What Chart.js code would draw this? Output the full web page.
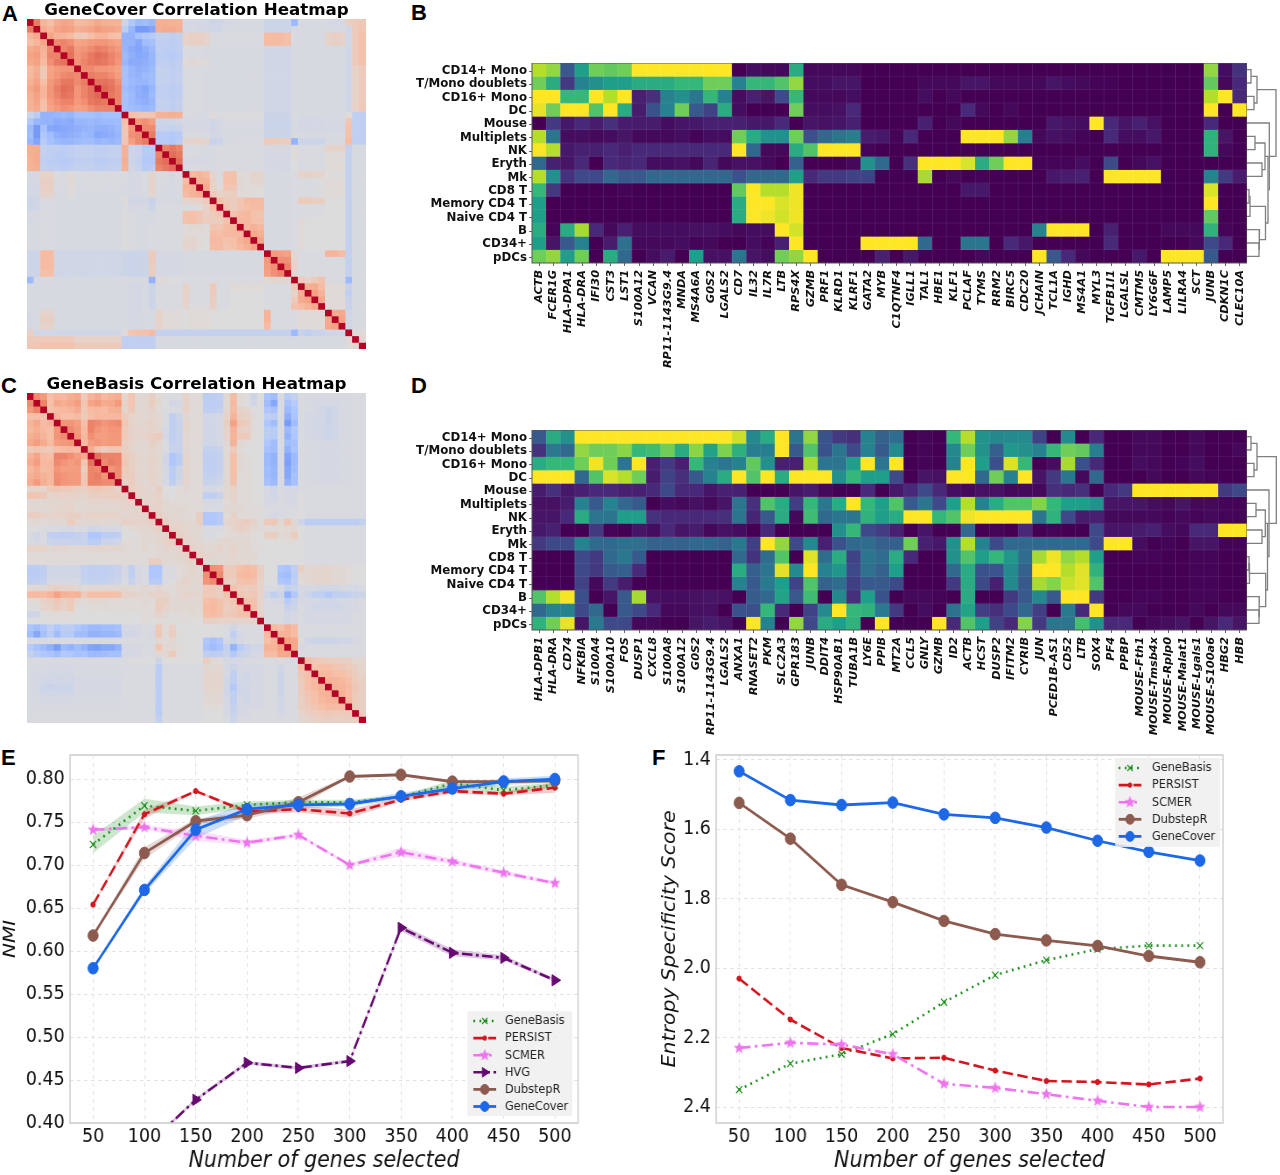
<!DOCTYPE html>
<html>
<head>
<meta charset="utf-8">
<title>Gene panel comparison</title>
<script src="https://cdn.jsdelivr.net/npm/chart.js@4/dist/chart.umd.min.js"></script>
<style>
  html, body { margin: 0; padding: 0; background: #fff; }
  #page { position: relative; width: 1280px; height: 1175px; overflow: hidden; }
  canvas { position: absolute; display: block; }
  .tag { position: absolute; font: bold 22px "Liberation Sans", Arial, sans-serif; color: #000; line-height: 22px; }
</style>
</head>
<body>
<div id="page">
  <div class="tag" style="left:2px;top:3px">A</div>
  <div class="tag" style="left:411px;top:2px">B</div>
  <div class="tag" style="left:1px;top:375px">C</div>
  <div class="tag" style="left:411px;top:375px">D</div>
  <div class="tag" style="left:1px;top:747px">E</div>
  <div class="tag" style="left:652px;top:747px">F</div>
  <canvas id="corrCover"></canvas>
  <canvas id="corrBasis"></canvas>
  <canvas id="markersCover"></canvas>
  <canvas id="treeCover"></canvas>
  <canvas id="markersBasis"></canvas>
  <canvas id="treeBasis"></canvas>
  <canvas id="nmiChart"></canvas>
  <canvas id="entropyChart"></canvas>
</div>
<script>
// ---- data ----

const cellTypes = ['CD14+ Mono', 'T/Mono doublets', 'CD16+ Mono', 'DC', 'Mouse', 'Multiplets', 'NK', 'Eryth', 'Mk',
  'CD8 T', 'Memory CD4 T', 'Naive CD4 T', 'B', 'CD34+', 'pDCs'];

const coverGenes = ['ACTB', 'FCER1G', 'HLA-DPA1', 'HLA-DRA', 'IFI30', 'CST3', 'LST1', 'S100A12', 'VCAN', 'RP11-1143G9.4',
  'MNDA', 'MS4A6A', 'G0S2', 'LGALS2', 'CD7', 'IL32', 'IL7R', 'LTB', 'RPS4X', 'GZMB', 'PRF1', 'KLRD1', 'KLRF1', 'GATA2',
  'MYB', 'C1QTNF4', 'IGLL1', 'TAL1', 'HBE1', 'KLF1', 'PCLAF', 'TYMS', 'RRM2', 'BIRC5', 'CDC20', 'JCHAIN', 'TCL1A', 'IGHD',
  'MS4A1', 'MYL3', 'TGFB1I1', 'LGALSL', 'CMTM5', 'LY6G6F', 'LAMP5', 'LILRA4', 'SCT', 'JUNB', 'CDKN1C', 'CLEC10A'];

const basisGenes = ['HLA-DPB1', 'HLA-DRA', 'CD74', 'NFKBIA', 'S100A4', 'S100A10', 'FOS', 'DUSP1', 'CXCL8', 'S100A8',
  'S100A12', 'G0S2', 'RP11-1143G9.4', 'LGALS2', 'ANXA1', 'RNASET2', 'PKM', 'SLC2A3', 'GPR183', 'JUNB', 'DDIT4', 'HSP90AB1',
  'TUBA1B', 'LY6E', 'PPIB', 'MT2A', 'CCL5', 'GNLY', 'GZMB', 'ID2', 'ACTB', 'HCST', 'DUSP2', 'IFITM2', 'CYRIB', 'JUN',
  'PCED1B-AS1', 'CD52', 'LTB', 'SOX4', 'PF4', 'PPBP', 'MOUSE-Fth1', 'MOUSE-Tmsb4x', 'MOUSE-Rplp0', 'MOUSE-Malat1',
  'MOUSE-Lgals1', 'MOUSE-S100a6', 'HBG2', 'HBB'];

// mean expression per cell type, 0 (low) to 9 (high), one row per cell type
const coverExpr = [
  [8,7.5,2.5,5,7,6.8,7,9,9,9,9,9,9,9,0,.3,.2,.2,5.5,.2,.2,.2,.2,0,0,0,0,0,0,0,0,0,0,0,0,0,0,0,0,0,0,0,0,0,0,0,0,7.5,.3,1.3],
  [7,5.5,1.5,4,4.5,5,5,5.5,5.5,5.5,6,6,7,7,4,6,6,6.5,7.5,.3,.3,.5,.5,0,0,0,0,.2,.2,.2,.5,.5,.2,.2,.2,.2,.5,.3,.2,.1,.1,0,0,0,0,0,0,6.8,.2,1],
  [9,9,6,6,9,8,9,.8,1.2,4,4.5,3.5,6,4,.3,.8,.5,2,6,.2,.2,.2,.3,0,0,0,0,.3,0,.2,0,0,0,0,0,0,0,0,0,0,0,0,0,0,0,0,0,8,9,1],
  [8.7,7,9,9,6.5,9,5.5,.7,2.3,4,7,2.5,1.8,5.5,.3,0,0,0,7,.3,.3,.4,1,0,0,0,0,0,0,0,1,.2,0,.2,0,0,0,0,0,0,0,0,0,0,0,0,0,9,0,9],
  [0,1.5,.6,1,.7,1.2,.7,.7,.7,.3,.5,.6,.8,.8,.8,.6,.6,1,0,.5,.4,.5,.8,0,0,0,0,.8,0,.2,0,0,0,0,0,0,.6,.4,.3,9,1,.5,.8,.4,0,0,0,1,0,0],
  [8,3.5,.3,.3,.2,.3,.5,.2,.2,.2,.3,.1,.3,.3,7,5.5,4.5,4.5,7,2.2,3,3.5,3.8,.7,.6,.1,1,0,0,0,9,9,9,7.5,3.8,.2,.4,.3,.1,0,1,.3,.3,.6,0,0,0,5.8,.5,0],
  [8.9,8,.6,.8,.8,1,.8,1,1,1,1,1,1,1,9,3,.2,.2,5.5,6.5,9,9,9,.1,0,0,0,0,0,0,0,0,0,0,0,0,0,0,0,0,0,0,0,0,0,0,0,5.8,.2,0],
  [3,.8,.5,1,0,1,.9,1,.3,.3,.4,.2,.9,.2,.4,.4,.2,0,2.8,0,0,0,.2,4.5,3,0,1.2,9,9,9,8.5,5.5,7,9,9,.1,.1,.1,.3,0,2,0,.2,.4,0,0,0,0,0,0],
  [8,4.5,1.3,2,2,3,2.5,2.5,3,3,3,3,3,3,2.3,3,3,3,5,1,1.5,1.5,1.8,1.8,0,0,0,7.8,0,.2,0,.1,0,0,0,0,.6,.7,.8,0,9,9,9,9,0,0,0,4,1.5,.7],
  [6,1.5,0,0,0,0,.1,0,0,0,0,0,0,0,6.8,9,8,8,8.8,0,0,0,0,0,0,0,0,0,0,0,.6,.6,0,0,0,0,0,0,0,0,0,0,0,0,0,0,0,8.5,0,0],
  [5,0,0,0,0,0,0,0,0,0,0,0,0,0,5.5,9,9,8.5,8.8,0,0,0,0,0,0,0,0,0,0,0,0,0,0,0,0,0,0,0,0,0,0,0,0,0,0,0,0,9,0,0],
  [5,0,0,0,0,0,0,0,0,0,0,0,0,0,5.5,9,8.8,8.4,8.8,0,0,0,0,0,0,0,0,0,0,0,0,0,0,0,0,0,0,0,0,0,0,0,0,0,0,0,0,6.8,0,0],
  [5.5,.1,5.5,7.8,1,.2,.8,.3,.3,.3,.3,.4,.4,.3,.2,.3,.3,9,8.4,0,0,0,0,0,0,0,0,0,0,0,0,0,0,0,0,4,9,9,9,0,.8,0,0,0,.2,.2,.2,5.8,.1,0],
  [5,.5,2.5,4,0,.7,3.3,.2,.2,.2,.3,.1,.2,0,0,.3,.1,.8,9,0,0,0,0,9,9,9,9,3,0,0,3.5,3.5,0,1,.6,0,0,0,0,0,1,0,0,0,0,0,.2,2,1,0],
  [7,7.5,5,7,0,5.5,3,0,.3,.7,0,5,.4,.4,3.5,.5,.3,7,7.5,9,0,0,0,0,.8,0,.6,0,0,0,0,.2,0,0,0,9,2.5,1,.2,0,0,0,.6,0,9,9,9,2.5,0,0]
];

const basisExpr = [
  [2.5,5.5,4.5,9,9,9,9,9,9,9,9,9,9,9,8.3,4.2,5.5,9,3.5,7.5,2.3,1.5,1.2,4,2.8,3.2,0,.1,0,6,8,4.6,4.2,4.3,4.3,1.8,0,4.3,0,1,0,0,.2,.2,0,0,.2,0,0,0],
  [1.3,3.7,3,7.5,7,7,7.4,6,6.2,7,5.5,7.4,5.2,7.2,5.7,3.8,3.8,9,2.5,6.5,2.3,3.5,2,4,2.5,4.3,0,.1,0,4.2,7,4.6,2.7,4.8,4.5,4,6,7,6.8,3.8,0,0,.2,.2,0,0,.2,0,0,.2],
  [5.5,6,6,7,8.8,7,3.5,9,.8,1.5,.8,6,4,3.5,4,6.8,4.5,.8,.8,7.8,3.5,3.5,5,9,3.5,9,0,.1,0,4,9,5,2.2,8.5,6,0,.3,7.8,2.2,1,0,0,.3,.2,0,.1,.3,0,0,0],
  [9,9,9,3,6.5,8.5,8,7,.7,1.8,1.2,2.5,4,5.5,9,6.5,9,5.5,9,9,9,4.5,6,5,5,2,0,.5,.4,9,9,3,7,4,9,.5,1.5,3.5,.2,3,0,0,0,.2,0,0,.2,.1,0,0],
  [.7,1.2,.6,.8,1,1,.8,.8,1,2,1,1,.5,.8,.8,0,0,0,.5,.7,.2,0,0,1,0,.6,1,2,1,.3,.2,.4,.4,.2,.2,.2,1.2,1,1.2,0,1,1.5,9,9,9,9,9,9,1.5,2],
  [.4,.4,.7,4,2.5,4,3,2.5,0,.3,.2,.4,.2,.5,3.5,1.2,6.5,5.5,1.6,6,3.5,5.5,9,6,5,6.5,2.5,3.5,2,5,8,4,5.5,6.5,6.5,7.3,6,5,5,4.5,.5,.5,.5,.3,.2,.5,.2,.2,.1,.1],
  [.5,.5,1,5.5,3.5,3.5,5,5,1.3,1,1,1,1.1,1.2,3.5,.9,2.5,5.5,.2,6.2,3,3.5,3.5,5.8,5,5.5,9,9,6,6.5,8.8,9,9,9,9,3.5,5.8,2,.7,.8,.2,.2,.2,.2,.1,.2,.1,.2,.1,.1],
  [.6,.8,0,0,1.5,.1,0,.5,.3,1,.5,.7,.2,.4,.3,0,1,0,0,0,0,4.5,6,2,1.6,.8,0,.5,0,0,3,0,.1,0,1,0,.1,0,0,2,.5,.5,.7,.8,.3,.2,1,1,9,9],
  [1.5,2,2,4,3,3,3.3,3.3,2.8,2.8,2.8,3,3,2.8,3.6,1.7,9,7.5,2,4.2,.8,2.3,3,3.2,2.7,2.7,7,.8,.6,4.5,8,4,2,3,3,3,3,3,3,2,9,9,.3,0,.1,0,.5,.5,.1,.1],
  [0,0,0,2,1.5,3,3.6,2.5,0,0,0,0,0,0,3,1.3,3.2,6.5,0,8.6,3.2,5.5,1.8,3.5,3.2,5.5,1,0,0,4.5,6.5,5,6,4.7,3.2,7.8,8.8,7.5,8,5,0,0,.1,.1,0,0,.1,.1,0,0],
  [0,0,0,2,1.5,2.5,2.7,1.1,0,0,0,0,0,0,5.5,2.7,3.5,8.6,4.3,9,4,4.7,2,3.3,2.8,5,0,0,0,3,5.5,2.3,2.4,4.3,2.8,9,9,8,8.6,5.8,0,0,0,0,0,0,.1,.1,0,0],
  [0,0,0,1.8,.2,1.5,.7,0,0,0,0,0,0,0,4,2.5,3.7,5,1.8,6.5,2.8,3.2,1.7,2.5,2.5,2,0,0,0,1.5,5.5,2,.8,4.2,2.5,7.8,7.3,8.3,8.6,6.5,0,0,0,0,0,0,.1,.1,0,0],
  [6.5,8,8.9,2.2,0,.5,2.5,7.8,.4,.3,.3,.4,.5,.4,0,2.6,3,5.2,2.5,6.2,0,4.2,1.2,5,2.3,0,.2,.2,.1,0,5.5,0,0,1.5,2.5,4.2,2.5,9,9,1.5,0,0,.1,.1,0,0,.1,.1,0,0],
  [3,4,4,2,3,0,2.5,2,1,.2,.2,.4,.4,0,2.3,2.2,6,1,0,1.8,4.3,9,6,5.8,3.7,1.5,0,.3,0,3.3,5.2,1.7,1.2,2,3,1.7,0,3.7,1,9,0,.2,.2,0,0,0,.2,0,.2,.2],
  [5.8,7,8.7,.5,3.7,2,2,.2,.2,0,0,.5,.7,.5,0,9,4,0,7.5,2,5.5,5,5.8,0,9,0,0,0,9,1,6.5,5,1.8,1,7.3,1.5,3.5,3.5,6.3,4.5,1,1,0,.2,.3,.5,0,.5,1,.5]
];

// dendrogram links: [upper row, upper height, lower row, lower height, merge height]
const coverTree = [
  [.5,0,1.5,0,4], [2.5,0,3.5,0,7], [1,4,3,7,10], [5.5,0,6.5,0,8], [7.5,0,8.5,0,15], [6,8,8,15,18], [9.5,0,10.5,0,2],
  [10,2,11.5,0,3], [13.5,0,14.5,0,12], [12.5,0,14,12,12.5], [10.75,3,13.25,12.5,18.5], [7,18,12,18.5,21],
  [4.5,0,9.5,21,22.3], [2,10,7,22.3,29]
];
const basisTree = [
  [.5,0,1.5,0,4], [2.5,0,3.5,0,7], [1,4,3,7,10], [5.5,0,6.5,0,9], [7.5,0,8.5,0,15], [6,9,8,15,18.3], [9.5,0,10.5,0,2],
  [10,2,11.5,0,2.5], [13.5,0,14.5,0,12], [12.5,0,14,12,12.3], [10.75,2.5,13.25,12.3,18.7], [7,18.3,12,18.7,20.5],
  [4.5,0,9.5,20.5,22], [2,10,7,22,29.3]
];

// gene-gene correlation x100, lower triangle, diagonal left out
const coverCorr = [
  [],
  [55],
  [28,35],
  [22,28,38],
  [34,38,30,50],
  [38,42,28,52,52],
  [36,40,25,48,56,58],
  [24,32,15,38,44,46,46],
  [26,34,14,40,46,50,52,50],
  [30,38,22,44,50,56,56,50,54],
  [36,44,28,46,54,60,58,46,52,58],
  [32,40,28,46,52,58,56,46,52,58,62],
  [30,38,22,42,48,52,52,44,48,56,58,56],
  [30,34,20,38,44,48,46,40,42,48,52,52,52],
  [-8,-16,-34,-34,-32,-30,-32,-26,-26,-26,-28,-26,-26,-26],
  [-22,-32,-34,-34,-38,-36,-38,-32,-32,-30,-32,-30,-30,-28,22],
  [-30,-48,-26,-40,-42,-40,-38,-36,-34,-32,-36,-36,-34,-30,18,45],
  [-28,-48,-22,-28,-36,-38,-36,-34,-30,-32,-40,-38,-36,-32,16,48,50],
  [-32,-42,-18,-26,-30,-32,-32,-30,-28,-28,-32,-30,-32,-30,18,42,50,55],
  [32,32,-12,-14,-14,-16,-14,-12,-12,-12,-14,-14,-12,-12,30,-8,-10,-18,-18],
  [32,34,-12,-14,-16,-16,-14,-12,-12,-12,-14,-14,-12,-12,30,-8,-10,-18,-18,52],
  [30,34,-14,-16,-16,-18,-16,-14,-14,-14,-16,-16,-14,-14,32,-8,-12,-20,-20,56,60],
  [30,32,-12,-14,-14,-16,-14,-12,-12,-12,-14,-14,-12,-12,30,-6,-10,-18,-16,52,56,60],
  [-4,-4,8,8,-2,-2,2,-2,-2,-2,-2,-2,-2,-2,-2,-4,-4,-2,6,-2,-2,-4,-2],
  [-4,-4,10,10,-2,-2,4,-2,-2,-2,-2,-2,-2,-2,-2,-4,-4,-2,8,-2,-2,-4,-2,25],
  [-5,-5,10,10,-2,-2,2,-2,-2,-2,-2,-2,-2,-2,-3,-4,-4,-2,8,-2,-3,-4,-2,28,30],
  [-5,-5,8,8,-3,-3,2,-3,-3,-3,-3,-3,-3,-3,-3,-4,-4,-3,6,-3,-3,-4,-3,24,30,34],
  [-8,-6,-2,-2,-3,-3,-3,-3,-3,-3,-3,-3,-3,-3,2,-6,-6,-5,-10,-3,-3,-3,-3,6,8,8,14],
  [-7,-6,-2,-2,-3,-3,-3,-3,-3,-3,-3,-3,-3,-3,-2,-4,-4,-4,-8,-2,-2,-2,-2,-2,-2,2,8,22],
  [-4,-3,-2,-2,-3,-3,-3,-3,-3,-3,-3,-3,-3,-3,-1,-2,-3,-3,-3,-2,-2,-2,-2,20,22,18,10,14,18],
  [-4,-3,-2,-2,-3,-3,-3,-3,-3,-3,-3,-3,-3,-3,-1,-2,-3,-3,-3,-2,-2,-2,-2,20,22,16,12,12,12,20],
  [-3,-3,-2,-2,-3,-3,-3,-3,-3,-3,-3,-3,-3,-3,-1,-2,-3,-3,-2,-2,-2,-2,-2,2,4,4,2,18,18,24,26],
  [-3,-3,-2,-2,-3,-3,-3,-3,-3,-3,-3,-3,-3,-3,-1,-2,-3,-3,-2,-2,-2,-2,-2,2,2,2,2,24,22,26,26,26],
  [-3,-3,-2,-2,-3,-3,-3,-3,-3,-3,-3,-3,-3,-3,-1,-2,-3,-3,-2,-2,-2,-2,-2,6,6,2,0,26,24,20,22,30,36],
  [-3,-3,-2,-2,-3,-3,-3,-3,-3,-3,-3,-3,-3,-3,-1,-2,-3,-3,-2,-2,-2,-2,-2,6,6,2,0,24,24,18,20,26,32,38],
  [-8,-8,24,24,-6,-6,-6,-6,-6,-6,-6,-6,-6,-6,-8,-9,-9,-8,14,-4,-4,-4,-4,-3,-3,-3,-3,-3,-3,-3,-3,-3,-3,-3,-3],
  [-8,-8,24,24,-6,-6,-6,-6,-6,-6,-6,-6,-6,-6,-8,-9,-9,-8,14,-4,-4,-4,-4,-3,-3,-3,-3,-3,-3,-3,-3,-3,-3,-3,-3,44],
  [-8,-8,24,24,-6,-6,-6,-6,-6,-6,-6,-6,-6,-6,-8,-9,-9,-8,12,-4,-4,-4,-4,-3,-3,-3,-3,-3,-3,-3,-3,-3,-3,-3,-3,42,48],
  [-8,-8,22,22,-6,-6,-6,-6,-6,-6,-6,-6,-6,-6,-8,-9,-9,-8,12,-4,-4,-4,-4,-3,-3,-3,-3,-3,-3,-3,-3,-3,-3,-3,-3,40,48,52],
  [-30,-4,-2,-2,-3,-3,-3,-3,-3,-3,-3,-3,-3,-3,-2,-3,-3,-3,-34,2,2,0,0,-2,-2,-2,-2,-2,-2,-2,-2,-2,-2,-2,-2,4,6,6,4],
  [-3,-3,-3,-3,-3,-3,-3,-3,-3,-3,-3,-3,-3,-3,-3,-5,-5,-3,-8,-2,-2,-2,-2,8,-2,-2,-2,14,-2,-2,2,2,2,2,2,-2,-2,-2,-2,14],
  [-3,-3,-3,-3,-3,-3,-3,-3,-3,-3,-3,-3,-3,-3,-3,-5,-5,-3,-8,-2,-2,-2,-2,8,-2,-2,-2,14,-2,-2,0,0,0,0,0,-2,-2,-2,-2,8,32],
  [-3,-3,-3,-3,-3,-3,-3,-3,-3,-3,-3,-3,-3,-3,-3,-5,-5,-3,-8,-2,-2,-2,-2,8,-2,-2,-2,12,-2,-2,0,0,0,0,0,-2,-2,-2,-2,14,34,40],
  [-3,-3,-3,-3,-3,-3,-3,-3,-3,-3,-3,-3,-3,-3,-3,-5,-5,-3,-8,-2,-2,-2,-2,6,-1,-1,-1,10,-2,-2,0,0,0,0,0,-2,-2,-2,-2,20,24,30,36],
  [-4,-3,8,8,-3,-3,-3,-3,-3,-3,-3,-3,-3,-3,-3,-4,-4,-3,-3,8,2,2,2,0,2,2,2,0,0,0,0,0,0,0,0,28,-2,-2,-2,-2,2,2,2,2],
  [-4,-3,10,10,-3,-3,-3,-3,-3,-3,-3,-3,-3,-3,-3,-4,-4,-3,-3,8,2,2,2,0,2,2,2,0,0,0,0,0,0,0,0,28,-2,-2,-2,-2,2,2,2,2,34],
  [-4,-3,8,8,-3,-3,-3,-3,-3,-3,-3,-3,-3,-3,-3,-4,-4,-3,-3,8,2,2,2,0,2,2,2,0,0,0,0,0,0,0,0,24,-2,-2,-2,-2,2,2,2,2,36,40],
  [10,-6,-6,-6,-6,-6,-6,-6,-6,-6,-6,-6,-6,-6,2,18,20,20,24,-12,-12,-12,-12,-12,-12,-12,-12,-12,-12,-12,-12,-12,-12,-12,-12,-12,-12,-12,-12,-30,-10,-14,-10,-10,-6,-6,-6],
  [14,14,14,14,14,14,14,8,8,8,8,8,8,8,-14,-14,-14,-14,-14,-3,-3,-3,-3,-3,-3,-3,-3,-3,-3,-3,-3,-3,-3,-3,-3,-3,-3,-3,-3,-3,-3,-3,-3,-3,-3,-3,-3,2],
  [16,18,20,20,20,20,20,14,14,14,14,14,14,14,-14,-14,-14,-14,-14,-3,-3,-3,-3,-3,-3,-3,-3,-3,-3,-3,-3,-3,-3,-3,-3,-3,-3,-3,-3,-3,-3,-3,-3,-3,-3,-3,-3,2,4]
];

const basisCorr = [
  [],
  [50],
  [44,52],
  [22,22,20],
  [28,36,24,28],
  [26,32,26,22,46],
  [32,36,28,22,46,50],
  [36,42,34,24,42,44,46],
  [14,18,16,14,22,24,26,24],
  [28,38,24,22,52,52,48,42,34],
  [34,42,26,26,50,46,42,46,18,58],
  [26,34,24,26,46,42,42,42,12,52,50],
  [30,36,30,26,48,46,44,44,16,52,54,46],
  [34,44,32,26,50,46,44,44,18,52,52,50,50],
  [6,8,6,14,16,14,14,10,10,14,16,14,12,8],
  [18,18,16,6,8,8,8,8,6,10,10,10,12,12,10],
  [4,4,4,6,4,6,6,4,4,6,6,6,6,6,8,8],
  [4,4,4,4,6,6,8,4,4,4,4,4,4,4,6,6,8],
  [10,12,8,6,8,8,10,10,6,8,8,8,8,8,4,6,6,8],
  [2,4,2,4,4,4,14,6,4,4,4,4,4,4,10,8,8,8,10],
  [0,0,-2,-2,-2,-4,-4,-2,-2,-6,-6,-4,-4,-4,0,2,4,4,6,10],
  [-2,-6,-2,-14,-14,-14,-14,-12,-10,-22,-22,-16,-16,-14,0,0,2,4,4,6,8],
  [-2,-4,-2,-8,-10,-10,-10,-10,-10,-16,-16,-8,-8,-6,2,2,2,4,4,6,8,10],
  [8,8,8,4,6,6,4,4,4,6,6,6,6,6,4,2,2,4,2,4,6,6,6],
  [2,2,2,2,2,2,2,2,2,2,2,2,2,2,2,2,2,2,2,4,4,4,6,8],
  [2,2,2,2,2,2,2,2,2,2,2,2,2,2,2,2,2,2,12,10,4,4,4,6,8],
  [-16,-16,-14,-6,-6,-6,-6,-6,-12,-14,-14,-14,-12,-10,-4,-14,-4,-2,-22,-22,-2,-2,2,4,6,4],
  [-16,-16,-14,-6,-6,-6,-6,-6,-12,-14,-14,-14,-12,-10,-4,-14,-4,-2,-22,-22,-2,-2,2,4,6,4,48],
  [-14,-14,-12,-4,-4,-4,-4,-4,-10,-12,-12,-12,-10,-8,-2,-10,-4,-2,-18,-18,-2,0,4,8,4,4,46,50],
  [4,4,4,8,10,8,8,4,2,4,4,4,4,4,4,4,2,4,2,6,2,2,6,4,4,4,14,14,12],
  [24,26,24,28,40,30,28,30,14,22,22,22,22,20,8,8,6,4,8,8,6,2,4,8,6,6,14,14,10,20],
  [2,2,8,10,16,10,14,4,2,4,4,4,2,2,2,2,2,4,2,10,10,4,4,4,4,4,22,24,20,14,18],
  [0,0,6,8,12,8,14,2,0,2,2,2,2,2,2,2,2,2,2,12,8,4,4,4,4,4,24,26,22,12,14,20],
  [-8,-6,0,2,2,2,2,0,0,0,0,0,0,0,0,0,0,2,2,8,4,2,2,2,4,2,22,24,20,14,16,20,22],
  [0,0,0,0,0,0,0,0,0,0,0,0,0,0,0,0,0,2,0,2,2,0,0,2,0,0,10,10,8,8,8,6,6,8],
  [-24,-28,-22,-14,-22,-16,-16,-22,-26,-30,-30,-28,-28,-26,-4,-4,-4,-2,-2,14,2,10,0,0,0,0,0,0,0,-2,-6,-2,-2,-2,-2],
  [-28,-40,-26,-16,-28,-18,-18,-28,-28,-34,-34,-32,-32,-30,-6,-6,-4,-2,-4,16,2,12,2,0,0,0,0,0,0,-2,-14,-4,-2,-2,-2,26],
  [-2,-2,-2,-2,-2,-2,-2,-2,-2,-2,-2,-2,-2,-2,-2,-2,-2,-2,-2,4,2,4,0,0,0,0,-22,-26,-22,-4,-8,-4,-2,-2,-2,22,28],
  [-18,-26,-30,-36,-46,-30,-34,-28,-34,-42,-44,-40,-40,-34,-4,-4,-4,-2,-2,18,4,4,2,0,0,0,-24,-28,-24,-12,-34,-18,-10,-6,-6,30,30,40],
  [-12,-18,-22,-24,-28,-20,-22,-26,-24,-30,-30,-28,-26,-26,-4,-4,-4,-2,-2,4,4,14,2,0,0,0,-14,-16,-14,-10,-20,-10,-8,-4,-4,24,24,36,36],
  [-2,-2,-2,-2,-2,-2,-2,-2,-2,-2,-2,-2,-2,-2,-2,0,0,0,0,-8,0,0,0,0,0,0,12,4,2,-4,-4,-4,-2,-2,-2,-2,-2,2,-4,-2],
  [-3,-3,-3,-4,-4,-4,-4,-3,-3,-3,-3,-3,-3,-3,-2,-2,-2,-2,-2,-16,-2,-2,-2,-2,-2,-2,4,4,4,-4,-8,-4,-4,-4,-4,-2,-2,-6,-2,-2,22],
  [-3,-4,-4,-5,-5,-5,-5,-3,-3,-3,-3,-3,-3,-3,-2,-2,-2,-2,-2,-16,-2,-2,-2,-2,-2,-2,6,6,6,-4,-14,-4,-6,-4,-4,-2,-2,-8,-2,-2,16,20],
  [-4,-4,-6,-6,-6,-6,-6,-4,-4,-4,-4,-4,-4,-4,-2,-2,-2,-2,-2,-16,-2,-2,-2,-2,-2,-2,6,6,6,-6,-14,-6,-6,-4,-4,-2,-2,-8,-2,-2,14,22,26],
  [-3,-4,-8,-10,-8,-8,-8,-4,-4,-4,-4,-4,-4,-4,-2,-2,-2,-2,-2,-16,-2,-2,-2,-2,-2,-2,6,6,6,-6,-20,-6,-6,-4,-4,-2,-2,-8,-2,-2,12,22,26,30],
  [-3,-4,-6,-6,-6,-6,-6,-4,-4,-4,-4,-4,-4,-4,-2,-2,-2,-2,-2,-16,-2,-2,-2,-2,-2,-2,4,4,4,-6,-14,-6,-6,-4,-4,-2,-2,-8,-2,-2,12,18,22,28,30],
  [-3,-3,-4,-4,-4,-4,-4,-3,-3,-3,-3,-3,-3,-3,-2,-2,-2,-2,-2,-16,-2,-2,-2,-2,-2,-2,4,4,4,-4,-14,-4,-6,-4,-4,-2,-2,-6,-2,-2,10,16,22,26,28,30],
  [-3,-3,-3,-3,-3,-3,-3,-3,-3,-3,-3,-3,-3,-3,-2,-2,-2,-2,-2,-16,-2,-2,-2,-2,-2,-2,2,2,2,-4,-12,-4,-4,-4,-4,-2,-2,-6,-2,-2,10,14,18,22,24,24,26],
  [-2,-2,-2,-2,-2,-2,-2,-2,-2,-2,-2,-2,-2,-2,-2,-2,-2,-2,-2,-16,-2,-2,-2,-2,-2,-2,0,0,0,-4,-10,-4,-4,-2,-2,-2,-2,-4,-2,-2,6,10,12,14,16,14,14,14],
  [-2,-2,-2,-2,-2,-2,-2,-2,-2,-2,-2,-2,-2,-2,-2,-2,-2,-2,-2,-12,-2,-2,-2,-2,-2,-2,0,0,0,-2,-8,-2,-2,-2,-2,-2,-2,-2,-2,-2,4,6,8,10,10,10,10,10,12]
];

const geneCounts = [50, 100, 150, 200, 250, 300, 350, 400, 450, 500];

const nmiTicks = [0.40, 0.45, 0.50, 0.55, 0.60, 0.65, 0.70, 0.75, 0.80];
const nmiGeneBasis = [.724, .769, .763, .770, .773, .773, .779, .795, .787, .793];
const nmiPersist = [.654, .759, .786, .762, .765, .760, .776, .786, .783, .790];
const nmiScmer = [.741, .744, .734, .726, .735, .700, .715, .704, .691, .679];
const nmiHvg = [.330, .371, .427, .470, .464, .472, .627, .598, .592, .566];
const nmiDubstep = [.618, .714, .751, .758, .773, .803, .805, .797, .797, .798];
const nmiGeneCover = [.580, .671, .741, .765, .770, .771, .780, .789, .797, .800];

// spread around each NMI curve
const spreadGeneBasis = [.010, .008, .005, .004, .003, .003, .002, .004, .004, .003];
const spreadPersist = [.001, .005, .001, .003, .004, .005, .002, .003, .002, .006];
const spreadScmer = [.002, .002, .006, .003, .002, .002, .005, .003, .003, .002];
const spreadHvg = [.002, .002, .002, .002, .002, .002, .004, .004, .003, .002];
const spreadDubstep = [.001, .007, .003, .004, .006, .001, .001, .002, .002, .002];
const spreadGeneCover = [.001, .004, .010, .007, .004, .003, .004, .004, .004, .004];

const entropyTicks = [1.4, 1.6, 1.8, 2.0, 2.2, 2.4];
const entGeneBasis = [2.35, 2.275, 2.248, 2.19, 2.098, 2.02, 1.977, 1.945, 1.935, 1.935];
const entPersist = [2.03, 2.148, 2.23, 2.26, 2.258, 2.295, 2.325, 2.328, 2.335, 2.318];
const entScmer = [2.23, 2.215, 2.22, 2.248, 2.333, 2.345, 2.363, 2.382, 2.40, 2.40];
const entDubstep = [1.524, 1.627, 1.76, 1.81, 1.864, 1.902, 1.92, 1.936, 1.965, 1.983];
const entGeneCover = [1.433, 1.516, 1.53, 1.523, 1.557, 1.567, 1.595, 1.633, 1.665, 1.69];

// ---- colour maps ----

const coolwarmStops = [[59,76,192],[89,119,227],[123,159,249],[174,199,253],[221,220,220],[246,191,166],[244,152,122],[217,88,71],[180,4,38]];
const viridisStops = [[68,1,84],[72,40,120],[62,73,137],[49,104,142],[38,130,142],[31,158,137],[53,183,121],[110,206,88],[181,222,43],[253,231,37]];

function ramp(stops, t) {
  const pos = Math.min(Math.max(t, 0), 1) * (stops.length - 1);
  const i = Math.min(Math.floor(pos), stops.length - 2);
  const f = pos - i;
  const c = stops[i].map((v, k) => Math.round(v + (stops[i + 1][k] - v) * f));
  return `rgb(${c[0]},${c[1]},${c[2]})`;
}

const DEJAVU = '"DejaVu Sans", sans-serif';

// outline around the plot area
const plotFrame = {
  id: 'plotFrame',
  afterDatasetsDraw(chart, args, opts) {
    const { ctx, chartArea: a } = chart;
    ctx.save();
    ctx.strokeStyle = opts.color;
    ctx.lineWidth = opts.width;
    ctx.strokeRect(a.left, a.top, a.right - a.left, a.bottom - a.top);
    ctx.restore();
  }
};

// faint lines between the cells of a matrix
const cellLines = {
  id: 'cellLines',
  afterDatasetsDraw(chart, args, opts) {
    const { ctx, chartArea: a, scales: { x, y } } = chart;
    const half = (x.getPixelForValue(1) - x.getPixelForValue(0)) / 2;
    ctx.save();
    ctx.strokeStyle = opts.color;
    ctx.lineWidth = 1;
    ctx.beginPath();
    for (let i = 1; i < chart.data.labels.length; i++) {
      const px = x.getPixelForValue(i) - half;
      ctx.moveTo(px, a.top);
      ctx.lineTo(px, a.bottom);
    }
    for (let r = 1; r < chart.data.datasets.length; r++) {
      const py = y.getPixelForValue(r);
      ctx.moveTo(a.left, py);
      ctx.lineTo(a.right, py);
    }
    ctx.stroke();
    ctx.restore();
  }
};

// ---- correlation heatmaps ----

function corrChart(id, title, rows, top) {
  const n = rows.length;
  const labels = rows.map((_, i) => i);
  const datasets = rows.map((_, r) => ({
    data: labels.map(() => [r, r + 1]),
    backgroundColor: labels.map(c => {
      const v = r === c ? 100 : (r > c ? rows[r][c] : rows[c][r]);
      // colour range tops out at +/-0.9
      return ramp(coolwarmStops, (v / 90 + 1) / 2);
    }),
    grouped: false,
    barPercentage: 1,
    categoryPercentage: 1
  }));
  const canvas = document.getElementById(id);
  canvas.style.left = '7px';
  canvas.style.top = top + 'px';
  canvas.width = 379;
  canvas.height = 349;
  new Chart(canvas, {
    type: 'bar',
    data: { labels, datasets },
    options: {
      responsive: false,
      animation: false,
      events: [],
      layout: { padding: { left: 20, right: 20, top: 0, bottom: 0 } },
      plugins: {
        legend: { display: false },
        tooltip: { enabled: false },
        title: {
          display: true,
          text: title,
          color: '#000',
          font: { family: DEJAVU, size: 16.7, weight: 'bold', lineHeight: 1 },
          padding: { top: 2, bottom: 0.3 }
        }
      },
      scales: {
        x: { display: false },
        y: { display: false, min: 0, max: n, reverse: true }
      }
    }
  });
}

corrChart('corrCover', 'GeneCover Correlation Heatmap', coverCorr, 0);
corrChart('corrBasis', 'GeneBasis Correlation Heatmap', basisCorr, 374);

// ---- marker gene matrices ----

function exprChart(id, genes, expr, top) {
  const datasets = expr.map((row, r) => ({
    data: row.map(() => [r, r + 1]),
    backgroundColor: row.map(v => ramp(viridisStops, v / 9)),
    grouped: false,
    barPercentage: 1,
    categoryPercentage: 1
  }));
  const canvas = document.getElementById(id);
  canvas.style.left = '410px';
  canvas.style.top = top + 'px';
  canvas.width = 837;
  canvas.height = 312;
  new Chart(canvas, {
    type: 'bar',
    data: { labels: genes, datasets },
    options: {
      responsive: false,
      animation: false,
      events: [],
      layout: { padding: 0 },
      plugins: {
        legend: { display: false },
        tooltip: { enabled: false },
        cellLines: { color: 'rgba(255,255,255,0.07)' },
        plotFrame: { color: '#555', width: 1 }
      },
      scales: {
        x: {
          grid: { display: true, offset: false, drawOnChartArea: false, tickLength: 3, color: '#666' },
          border: { display: false },
          ticks: {
            autoSkip: false,
            minRotation: 90,
            maxRotation: 90,
            padding: 4,
            color: '#111',
            font: { family: DEJAVU, size: 11.3, weight: 'bold', style: 'italic' }
          },
          afterFit(s) { s.height = 112; s.paddingLeft = 0; s.paddingRight = 0; }
        },
        y: {
          min: 0,
          max: cellTypes.length,
          reverse: true,
          grid: { display: true, drawOnChartArea: false, tickLength: 3, color: '#666' },
          border: { display: false },
          // labels sit a touch below the row centre
          afterBuildTicks(s) { s.ticks = cellTypes.map((_, i) => ({ value: i + 0.6 })); },
          ticks: {
            autoSkip: false,
            padding: 2,
            color: '#111',
            font: { family: DEJAVU, size: 11.8, weight: 'bold' },
            callback: v => cellTypes[Math.floor(v)]
          },
          afterFit(s) { s.width = 122; s.paddingTop = 0; s.paddingBottom = 0; }
        }
      }
    },
    plugins: [cellLines, plotFrame]
  });
}

exprChart('markersCover', coverGenes, coverExpr, 63);
exprChart('markersBasis', basisGenes, basisExpr, 430);

// ---- dendrograms ----

function treeChart(id, links, top) {
  const datasets = links.map(([y0, h0, y1, h1, m]) => ({
    data: [{ x: h0, y: y0 }, { x: m, y: y0 }, { x: m, y: y1 }, { x: h1, y: y1 }],
    showLine: true,
    borderColor: '#7f7f7f',
    borderWidth: 1.3,
    pointRadius: 0,
    clip: false
  }));
  const canvas = document.getElementById(id);
  canvas.style.left = '1247px';
  canvas.style.top = top + 'px';
  canvas.width = 33;
  canvas.height = 200;
  new Chart(canvas, {
    type: 'scatter',
    data: { datasets },
    options: {
      responsive: false,
      animation: false,
      events: [],
      layout: { padding: 0 },
      plugins: { legend: { display: false }, tooltip: { enabled: false } },
      scales: {
        x: { display: false, min: 0, max: 33 },
        y: { display: false, min: 0, max: cellTypes.length, reverse: true }
      }
    }
  });
}

treeChart('treeCover', coverTree, 63);
treeChart('treeBasis', basisTree, 430);

// ---- method curves ----

// filled five-point star, used as a point marker
function starMarker(color, size) {
  const c = document.createElement('canvas');
  c.width = c.height = size;
  const ctx = c.getContext('2d');
  ctx.translate(size / 2, size / 2);
  ctx.beginPath();
  for (let i = 0; i < 10; i++) {
    const r = i % 2 ? size * 0.22 : size * 0.5;
    const a = -Math.PI / 2 + i * Math.PI / 5;
    ctx.lineTo(Math.cos(a) * r, Math.sin(a) * r);
  }
  ctx.closePath();
  ctx.fillStyle = color;
  ctx.fill();
  return c;
}

const methodStyles = {
  GeneBasis: { color: '#1a8c1a', dash: [2, 5], width: 2.6, marker: 'crossRot', radius: 5, rotation: 0, markerWidth: 1.2 },
  PERSIST: { color: '#d2161f', dash: [12, 5], width: 2.6, marker: 'circle', radius: 2.6, rotation: 0, markerWidth: 1 },
  SCMER: { color: '#ee74ee', dash: [13, 5, 3, 5], width: 2.6, marker: starMarker('#ee74ee', 13), radius: 6, rotation: 0, markerWidth: 1 },
  HVG: { color: '#660a72', dash: [12, 4, 3, 4], width: 2.6, marker: 'triangle', radius: 6.5, rotation: 90, markerWidth: 1 },
  DubstepR: { color: '#8c5a4e', dash: [], width: 2.8, marker: 'circle', radius: 5.8, rotation: 0, markerWidth: 1 },
  GeneCover: { color: '#1c68e6', dash: [], width: 2.8, marker: 'circle', radius: 5.8, rotation: 0, markerWidth: 1 }
};

// legend drawn on top of the curves, inside the plot area
const insideLegend = {
  id: 'insideLegend',
  afterDatasetsDraw(chart, args, opts) {
    const ctx = chart.ctx;
    ctx.save();
    ctx.beginPath();
    ctx.roundRect(opts.x, opts.y, opts.w, opts.h, 3);
    ctx.fillStyle = 'rgba(238,238,238,0.85)';
    ctx.fill();
    opts.names.forEach((name, i) => {
      const st = methodStyles[name];
      const cy = opts.y + opts.firstRow + i * opts.rowHeight;
      ctx.beginPath();
      ctx.setLineDash(st.dash);
      ctx.lineWidth = st.width;
      ctx.strokeStyle = st.color;
      ctx.moveTo(opts.handleX, cy);
      ctx.lineTo(opts.handleX + opts.handleW, cy);
      ctx.stroke();
      ctx.setLineDash([]);
      ctx.fillStyle = st.color;
      ctx.lineWidth = st.markerWidth;
      Chart.helpers.drawPoint(ctx, { pointStyle: st.marker, radius: st.radius * 0.85, rotation: st.rotation, borderWidth: st.markerWidth },
        opts.handleX + opts.handleW / 2, cy);
      ctx.fillStyle = '#222';
      ctx.font = `13px ${DEJAVU}`;
      ctx.textBaseline = 'middle';
      ctx.fillText(name, opts.textX, cy);
    });
    ctx.restore();
  }
};

// the two lower panels are drawn wide and squeezed horizontally
const SQUEEZE = 0.875;

function curveChart(cfg) {
  const lineSets = [];
  const bandSets = [];
  const names = Object.keys(cfg.series);
  names.slice().reverse().forEach(name => {
    const st = methodStyles[name];
    lineSets.push({
      label: name,
      data: cfg.series[name],
      borderColor: st.color,
      backgroundColor: st.color,
      borderWidth: st.width,
      borderDash: st.dash,
      pointStyle: st.marker,
      pointRadius: st.radius,
      pointRotation: st.rotation,
      pointBorderWidth: st.markerWidth,
      tension: 0,
      fill: false
    });
  });
  if (cfg.spread) {
    names.forEach(name => {
      const vals = cfg.series[name];
      const sp = cfg.spread[name];
      const color = methodStyles[name].color + '38';
      bandSets.push({ data: vals.map((v, i) => v + sp[i]), pointRadius: 0, borderWidth: 0, backgroundColor: color, fill: '+1' });
      bandSets.push({ data: vals.map((v, i) => v - sp[i]), pointRadius: 0, borderWidth: 0, fill: false });
    });
  }
  const canvas = document.getElementById(cfg.id);
  canvas.style.left = cfg.left + 'px';
  canvas.style.top = '745px';
  canvas.style.transformOrigin = '0 0';
  canvas.style.transform = `scaleX(${SQUEEZE})`;
  canvas.width = cfg.width;
  canvas.height = 430;
  new Chart(canvas, {
    type: 'line',
    data: {
      labels: geneCounts,
      datasets: lineSets.concat(bandSets).map(d => ({
        ...d,
        data: d.data.map((v, i) => ({ x: geneCounts[i], y: v }))
      }))
    },
    options: {
      responsive: false,
      animation: false,
      events: [],
      layout: { padding: { left: 0, right: cfg.padRight, top: 10, bottom: 0 } },
      plugins: {
        legend: { display: false },
        tooltip: { enabled: false },
        plotFrame: { color: '#cfcfcf', width: 1.6 },
        insideLegend: cfg.legend
      },
      scales: {
        x: {
          type: 'linear',
          min: 27.5,
          max: 522.5,
          grid: { color: '#e2e2e2', lineWidth: 1, drawTicks: false },
          border: { display: false, dash: [4, 4] },
          afterBuildTicks(s) { s.ticks = geneCounts.map(v => ({ value: v })); },
          ticks: { color: '#111', padding: 2, font: { family: DEJAVU, size: 20 }, maxRotation: 0, callback: v => String(v) },
          title: { display: true, text: 'Number of genes selected', color: '#111',
            font: { family: DEJAVU, size: 23.5, style: 'italic', lineHeight: 1 }, padding: { top: 1, bottom: 2 } },
          afterFit(s) { s.height = 52; s.paddingLeft = 0; s.paddingRight = 0; }
        },
        y: {
          min: cfg.yMin,
          max: cfg.yMax,
          reverse: cfg.reverse,
          grid: { color: '#e2e2e2', lineWidth: 1, drawTicks: false },
          border: { display: false, dash: [4, 4] },
          afterBuildTicks(s) { s.ticks = cfg.ticks.map(v => ({ value: v })); },
          ticks: { color: '#111', padding: 6, font: { family: DEJAVU, size: 20 }, callback: v => v.toFixed(cfg.digits) },
          title: { display: true, text: cfg.yTitle, color: '#111',
            font: { family: DEJAVU, size: cfg.yTitleSize, style: 'italic', lineHeight: 1 }, padding: { top: cfg.yTitleGap, bottom: 0 } },
          afterFit(s) { s.width = cfg.axisWidth; s.paddingTop = 0; s.paddingBottom = 0; }
        }
      }
    },
    plugins: [plotFrame, insideLegend]
  });
}

curveChart({
  id: 'nmiChart',
  left: 0,
  width: 686,
  padRight: 25.4,
  axisWidth: 80,
  yMin: 0.40,
  yMax: 0.828,
  reverse: false,
  ticks: nmiTicks,
  digits: 2,
  yTitle: 'NMI',
  yTitleSize: 20,
  yTitleGap: 2,
  series: { GeneBasis: nmiGeneBasis, PERSIST: nmiPersist, SCMER: nmiScmer, HVG: nmiHvg, DubstepR: nmiDubstep, GeneCover: nmiGeneCover },
  spread: { GeneBasis: spreadGeneBasis, PERSIST: spreadPersist, SCMER: spreadScmer, HVG: spreadHvg, DubstepR: spreadDubstep, GeneCover: spreadGeneCover },
  legend: { names: ['GeneBasis', 'PERSIST', 'SCMER', 'HVG', 'DubstepR', 'GeneCover'], x: 534, y: 266, w: 120, h: 105, firstRow: 10, rowHeight: 17.1, handleX: 541, handleW: 26, textX: 577 }
});

curveChart({
  id: 'entropyChart',
  left: 640,
  width: 731,
  padRight: 64.7,
  axisWidth: 87,
  yMin: 1.386,
  yMax: 2.446,
  reverse: true,
  ticks: entropyTicks,
  digits: 1,
  yTitle: 'Entropy Specificity Score',
  yTitleSize: 20.5,
  yTitleGap: 24,
  series: { GeneBasis: entGeneBasis, PERSIST: entPersist, SCMER: entScmer, DubstepR: entDubstep, GeneCover: entGeneCover },
  legend: { names: ['GeneBasis', 'PERSIST', 'SCMER', 'DubstepR', 'GeneCover'], x: 543, y: 13, w: 120, h: 89, firstRow: 10, rowHeight: 17.1, handleX: 547, handleW: 26, textX: 585 }
});
</script>
</body>
</html>
